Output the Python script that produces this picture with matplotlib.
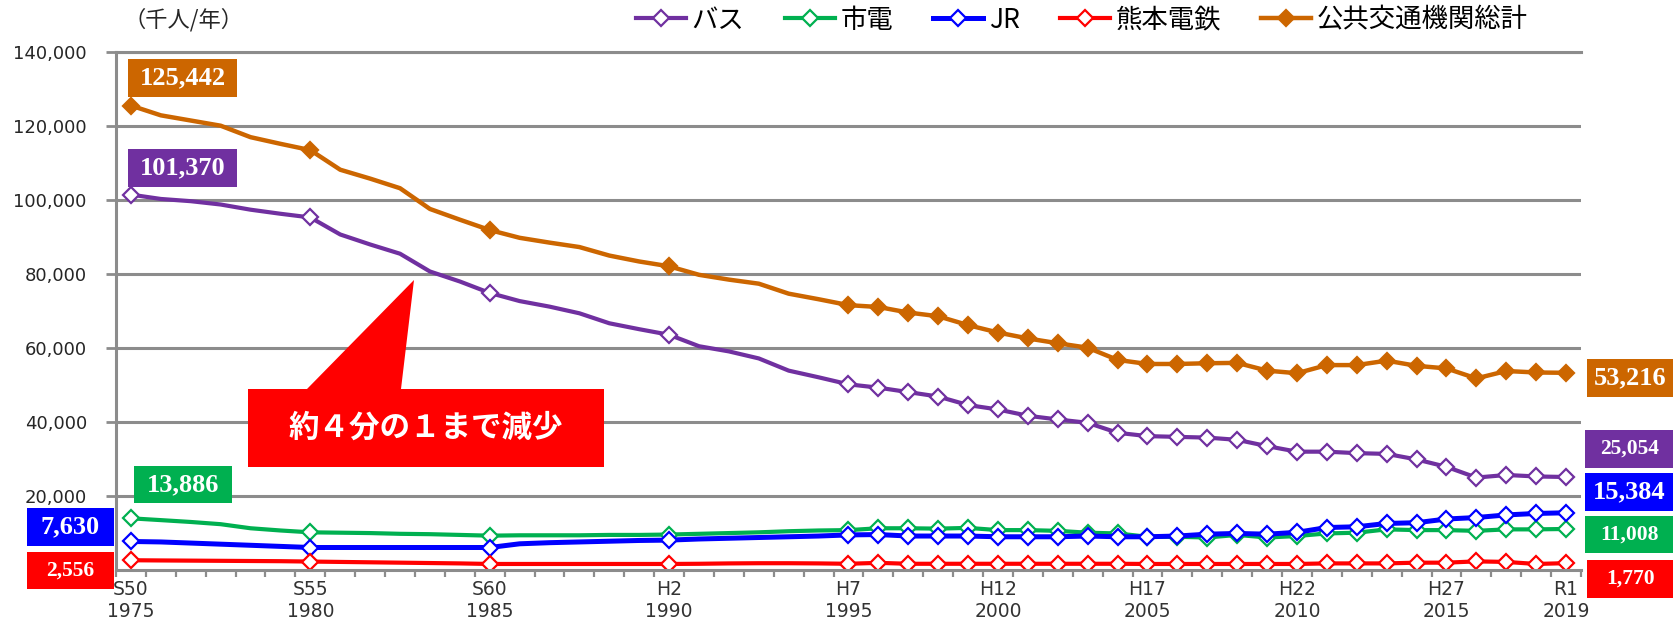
import matplotlib
matplotlib.use("Agg")
import matplotlib.pyplot as plt
import numpy as np
from matplotlib.font_manager import FontProperties
from matplotlib.patches import Polygon, Rectangle

W, H, DPI = 1674, 624, 100
CJK = ["Noto Sans CJK JP", "DejaVu Sans"]

# x axis: 49 category slots, labelled every 5 years (Showa / Heisei / Reiwa + AD)
label_pos = [0, 6, 12, 18, 24, 29, 34, 39, 44, 48]
era_labels = ["S50", "S55", "S60", "H2", "H7", "H12", "H17", "H22", "H27", "R1"]
year_labels = ["1975", "1980", "1985", "1990", "1995", "2000", "2005", "2010", "2015", "2019"]
marked = [0, 6, 12, 18] + list(range(24, 49))

series_names = ["バス", "市電", "JR", "熊本電鉄", "公共交通機関総計"]

# 千人/年
bus = [101370, 100200, 99600, 98700, 97300, 96200, 95200, 90600, 87900, 85400,
       80600, 77900, 74800, 72600, 71100, 69300, 66600, 65000, 63500, 60400,
       59000, 57100, 53800, 52000, 50100, 49200, 48000, 46800, 44500, 43300,
       41600, 40600, 39700, 37000, 36100, 35900, 35700, 35100, 33400, 31900,
       31900, 31500, 31300, 29800, 27800, 24900, 25600, 25200, 25054]
tram = [13886, 13400, 12900, 12300, 11200, 10600, 10100, 10000, 9900, 9700,
        9600, 9400, 9200, 9300, 9300, 9300, 9400, 9400, 9500, 9700,
        9900, 10100, 10400, 10600, 10700, 11200, 11200, 11100, 11300, 10700,
        10700, 10500, 10000, 9800, 8900, 8900, 8700, 9400, 8700, 9100,
        9800, 10000, 10900, 10700, 10700, 10500, 10900, 10900, 11008]
jr = [7630, 7500, 7200, 6900, 6600, 6300, 6000, 6000, 6000, 6000,
      6000, 6000, 6000, 7000, 7300, 7500, 7700, 7900, 8000, 8300,
      8500, 8700, 8900, 9100, 9400, 9500, 9100, 9100, 9100, 8900,
      8900, 8900, 9100, 8900, 8900, 9100, 9600, 9800, 9600, 10100,
      11400, 11600, 12500, 12700, 13700, 14100, 14800, 15200, 15384]
kumaden = [2556, 2500, 2450, 2400, 2350, 2300, 2200, 2100, 2000, 1900,
           1800, 1700, 1550, 1550, 1550, 1550, 1550, 1550, 1550, 1600,
           1700, 1750, 1750, 1700, 1600, 1850, 1600, 1600, 1600, 1600,
           1600, 1600, 1600, 1600, 1550, 1550, 1550, 1550, 1550, 1550,
           1700, 1700, 1700, 1900, 1900, 2250, 2100, 1550, 1770]
total = [125442, 122800, 121400, 120000, 116900, 115100, 113400, 108100, 105700, 103100,
         97500, 94600, 91800, 89700, 88400, 87200, 84900, 83300, 82000, 79700,
         78400, 77300, 74600, 73100, 71500, 71000, 69500, 68500, 66100, 64100,
         62500, 61200, 60000, 56700, 55600, 55600, 55800, 55900, 53800, 53100,
         55300, 55300, 56500, 55100, 54400, 51700, 53700, 53300, 53216]

PURPLE, GREEN, BLUE, RED, ORANGE = "#7030A0", "#00B050", "#0000FF", "#FF0000", "#CC6600"
GRID = "#8C8C8C"

fig = plt.figure(figsize=(W / DPI, H / DPI), dpi=DPI)
ax = fig.add_axes([116 / W, 1 - 569.7 / H, (1581 - 116) / W, (569.7 - 51.7) / H])

x = np.arange(len(total))
specs = [
    (bus, PURPLE, "white", 3.0),
    (tram, GREEN, "white", 3.0),
    (jr, BLUE, "white", 3.6),
    (kumaden, RED, "white", 3.0),
    (total, ORANGE, ORANGE, 3.2),
]
for name, (vals, col, face, lw) in zip(series_names, specs):
    ax.plot(x, vals, color=col, lw=lw, marker="D", ms=8, mfc=face, mec=col,
            mew=1.6, markevery=marked, label=name, solid_joinstyle="round")

ax.set_xlim(-0.5, len(total) - 0.5)
ax.set_ylim(0, 140000)
yt = np.arange(20000, 140001, 20000)
ax.set_yticks(yt)
ax.set_yticklabels([f"{v:,}" for v in yt], fontsize=13, color="#262626")
ax.tick_params(axis="y", direction="out", length=7, width=2, color=GRID, pad=14)
ax.yaxis.grid(True, color=GRID, lw=2.2)
ax.set_axisbelow(True)

ax.set_xticks(label_pos)
ax.set_xticklabels([f"{e}\n{y}" for e, y in zip(era_labels, year_labels)],
                   fontsize=13.5, color="#333333", linespacing=1.2)
ax.set_xticks(np.arange(-0.5, len(total), 1), minor=True)
ax.tick_params(axis="x", which="major", length=0, pad=7.5)
ax.tick_params(axis="x", which="minor", direction="out", length=5, width=1.6, color=GRID)

for side in ("left", "bottom", "top"):
    ax.spines[side].set_color(GRID)
    ax.spines[side].set_linewidth(2.2)
ax.spines["right"].set_visible(False)

ax.legend(loc="center", bbox_to_anchor=(1082 / W, 1 - 20 / H), bbox_transform=fig.transFigure,
          ncol=5, frameon=False, prop=FontProperties(family=CJK, size=19),
          handlelength=1.9, handletextpad=0.2, columnspacing=1.53, numpoints=1)

fig.text(124 / W, 1 - 20 / H, "（千人/年）", fontsize=16, family=CJK, color="#262626",
         ha="left", va="center")


def box(x0, y0, x1, y1, color, text, size):
    fig.add_artist(Rectangle((x0 / W, 1 - y1 / H), (x1 - x0) / W, (y1 - y0) / H,
                             transform=fig.transFigure, facecolor=color,
                             edgecolor="none", zorder=5))
    fig.text((x0 + x1) / 2 / W, 1 - (y0 + y1) / 2 / H, text, color="white",
             fontsize=size, fontweight="bold", family="Liberation Serif",
             ha="center", va="center", zorder=6)


box(128, 59, 237, 97, ORANGE, f"{total[0]:,}", 19)
box(128, 149, 237, 187, PURPLE, f"{bus[0]:,}", 19)
box(134, 466, 232, 503, GREEN, f"{tram[0]:,}", 19)
box(27, 508, 114, 546, BLUE, f"{jr[0]:,}", 19)
box(27, 552, 114, 589, RED, f"{kumaden[0]:,}", 15.5)
box(1587, 359, 1674, 397, ORANGE, f"{total[-1]:,}", 19)
box(1585, 430, 1674, 468, PURPLE, f"{bus[-1]:,}", 15.5)
box(1585, 473, 1674, 511, BLUE, f"{jr[-1]:,}", 19)
box(1585, 516, 1674, 553, GREEN, f"{tram[-1]:,}", 15.5)
box(1587, 560, 1674, 598, RED, f"{kumaden[-1]:,}", 15.5)

# callout
pts = [(248, 389), (307, 389), (414, 280), (401, 389), (604, 389), (604, 467), (248, 467)]
fig.add_artist(Polygon([(px / W, 1 - py / H) for px, py in pts], closed=True,
                       transform=fig.transFigure, facecolor=RED, edgecolor="none", zorder=5))
fig.text(426 / W, 1 - 428 / H, "約４分の１まで減少", color="white", fontsize=22,
         fontweight="bold", family=CJK, ha="center", va="center", zorder=6)

fig.savefig("out.png", dpi=DPI)
